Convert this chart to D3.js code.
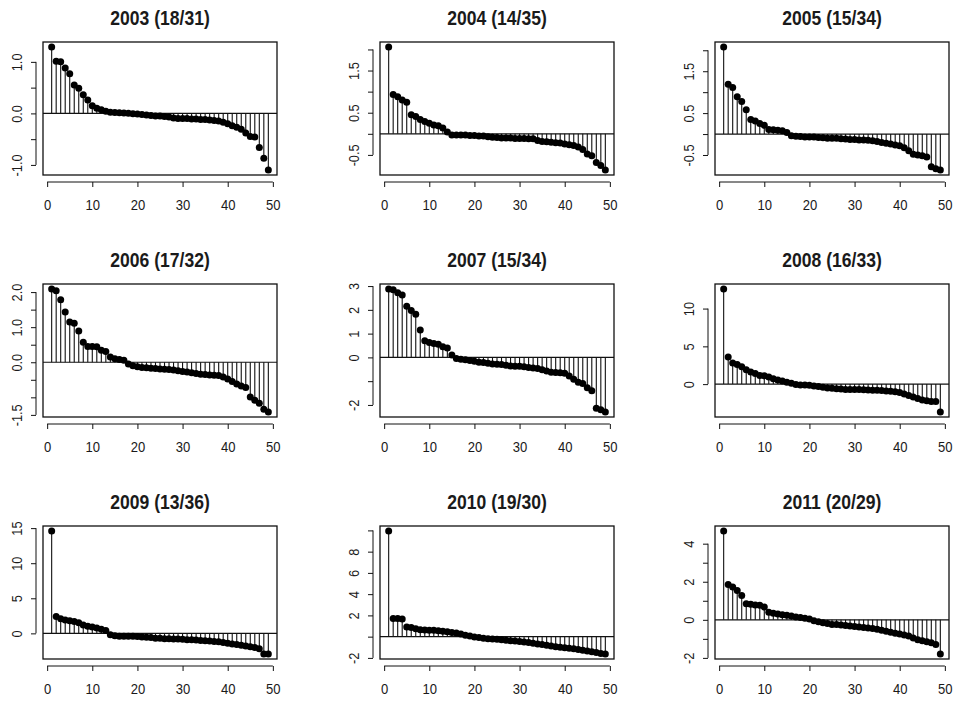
<!DOCTYPE html>
<html>
<head>
<meta charset="utf-8">
<script src="https://cdn.jsdelivr.net/npm/d3@7"></script>
<style>
  body { margin: 0; background: #fff; }
  text { font-family: "Liberation Sans", Arial, sans-serif; fill: #1a1a1a; }
</style>
</head>
<body>
<div id="chart"></div>
<script>
// panel titles
var years = ["2003", "2004", "2005", "2006", "2007", "2008", "2009", "2010", "2011"];
var posCounts = [18, 14, 15, 17, 15, 16, 13, 19, 20];
var negCounts = [31, 35, 34, 32, 34, 33, 36, 30, 29];

// sorted values, index 1..49
var v2003 = [1.29,1.01,1.00,0.88,0.77,0.55,0.49,0.36,0.26,0.15,0.10,0.07,0.04,0.02,0.015,0.012,0.01,0.005,
  -0.005,-0.01,-0.02,-0.03,-0.04,-0.05,-0.05,-0.06,-0.07,-0.09,-0.10,-0.10,-0.10,-0.11,-0.11,-0.12,-0.12,-0.13,
  -0.14,-0.15,-0.17,-0.20,-0.24,-0.27,-0.31,-0.38,-0.45,-0.46,-0.66,-0.87,-1.10];
var v2004 = [2.06,0.93,0.88,0.80,0.75,0.45,0.41,0.34,0.29,0.25,0.21,0.19,0.14,0.04,
  -0.03,-0.03,-0.03,-0.03,-0.04,-0.04,-0.05,-0.05,-0.07,-0.08,-0.09,-0.10,-0.10,-0.10,-0.11,-0.11,-0.11,-0.12,
  -0.12,-0.16,-0.18,-0.19,-0.20,-0.21,-0.22,-0.24,-0.26,-0.28,-0.31,-0.37,-0.48,-0.52,-0.68,-0.75,-0.86];
var v2005 = [2.08,1.19,1.11,0.89,0.78,0.58,0.35,0.31,0.25,0.21,0.11,0.10,0.09,0.08,0.04,
  -0.04,-0.05,-0.06,-0.07,-0.07,-0.07,-0.08,-0.09,-0.10,-0.10,-0.10,-0.11,-0.12,-0.13,-0.13,-0.14,-0.14,-0.15,
  -0.16,-0.18,-0.20,-0.22,-0.24,-0.26,-0.28,-0.33,-0.40,-0.48,-0.50,-0.52,-0.55,-0.78,-0.83,-0.86];
var v2006 = [2.09,2.04,1.78,1.43,1.15,1.11,0.89,0.57,0.45,0.45,0.44,0.34,0.31,0.15,0.10,0.08,0.06,
  -0.05,-0.10,-0.13,-0.15,-0.16,-0.17,-0.18,-0.19,-0.20,-0.21,-0.22,-0.24,-0.26,-0.28,-0.30,-0.32,-0.34,-0.35,
  -0.36,-0.37,-0.38,-0.42,-0.48,-0.55,-0.62,-0.68,-0.72,-0.99,-1.08,-1.17,-1.34,-1.42];
var v2007 = [2.88,2.85,2.72,2.62,2.15,1.97,1.82,1.15,0.70,0.63,0.58,0.55,0.45,0.40,0.10,
  -0.05,-0.08,-0.10,-0.13,-0.16,-0.20,-0.22,-0.25,-0.28,-0.29,-0.30,-0.33,-0.36,-0.37,-0.37,-0.39,-0.42,-0.45,
  -0.47,-0.52,-0.57,-0.62,-0.64,-0.65,-0.67,-0.78,-0.92,-1.05,-1.10,-1.28,-1.40,-2.14,-2.20,-2.30];
var v2008 = [12.6,3.6,2.8,2.6,2.3,1.9,1.6,1.4,1.15,1.1,0.95,0.7,0.55,0.4,0.25,0.1,
  -0.05,-0.1,-0.1,-0.15,-0.25,-0.3,-0.4,-0.5,-0.55,-0.6,-0.65,-0.7,-0.7,-0.7,-0.72,-0.75,-0.78,-0.8,-0.82,
  -0.85,-0.9,-0.95,-1.0,-1.1,-1.3,-1.5,-1.7,-1.9,-2.1,-2.2,-2.3,-2.3,-3.7];
var v2009 = [14.6,2.4,2.1,1.9,1.8,1.7,1.5,1.2,1.0,0.9,0.75,0.6,0.4,
  -0.2,-0.35,-0.4,-0.4,-0.4,-0.4,-0.45,-0.5,-0.55,-0.6,-0.7,-0.7,-0.75,-0.75,-0.8,-0.8,-0.85,-0.9,-0.9,-0.95,
  -1.0,-1.05,-1.1,-1.15,-1.2,-1.3,-1.4,-1.5,-1.6,-1.7,-1.8,-1.9,-2.0,-2.2,-2.95,-2.95];
var v2010 = [9.95,1.7,1.7,1.65,0.9,0.85,0.75,0.65,0.62,0.6,0.6,0.55,0.5,0.45,0.4,0.35,0.25,0.12,0.05,
  -0.03,-0.08,-0.15,-0.2,-0.22,-0.25,-0.3,-0.35,-0.38,-0.42,-0.45,-0.5,-0.55,-0.62,-0.7,-0.75,-0.8,-0.88,
  -0.95,-1.0,-1.05,-1.1,-1.15,-1.2,-1.28,-1.35,-1.42,-1.5,-1.58,-1.64];
var v2011 = [4.67,1.86,1.72,1.54,1.28,0.84,0.82,0.78,0.76,0.67,0.40,0.35,0.30,0.27,0.24,0.20,0.15,0.12,0.08,0.04,
  -0.05,-0.10,-0.15,-0.20,-0.24,-0.25,-0.27,-0.30,-0.32,-0.35,-0.38,-0.40,-0.43,-0.46,-0.50,-0.55,-0.60,-0.65,
  -0.70,-0.75,-0.80,-0.85,-0.95,-1.05,-1.10,-1.15,-1.20,-1.30,-1.80];
var allValues = [v2003, v2004, v2005, v2006, v2007, v2008, v2009, v2010, v2011];

// axis ticks
var xTicks = [0, 10, 20, 30, 40, 50];
var yTicks = [
  [-1, -0.5, 0, 0.5, 1],
  [-0.5, 0, 0.5, 1, 1.5, 2],
  [-0.5, 0, 0.5, 1, 1.5, 2],
  [-1.5, -1, -0.5, 0, 0.5, 1, 1.5, 2],
  [-2, -1, 0, 1, 2, 3],
  [0, 5, 10],
  [0, 5, 10, 15],
  [-2, 0, 2, 4, 6, 8, 10],
  [-2, -1, 0, 1, 2, 3, 4]
];
var yLabels = [
  ["-1.0", "", "0.0", "", "1.0"],
  ["-0.5", "", "0.5", "", "1.5", ""],
  ["-0.5", "", "0.5", "", "1.5", ""],
  ["-1.5", "", "", "0.0", "", "1.0", "", "2.0"],
  ["-2", "", "0", "1", "2", "3"],
  ["0", "5", "10"],
  ["0", "5", "10", "15"],
  ["-2", "", "2", "4", "6", "8", ""],
  ["-2", "", "0", "", "2", "", "4"]
];

var W = 958, H = 702;
var colLeft = [43, 380, 715];
var rowTop = [42, 284, 526];
var bw = 234, bh = 133;
var axisGap = 7;

var svg = d3.select("#chart").append("svg")
    .attr("width", W)
    .attr("height", H);

svg.append("rect").attr("width", W).attr("height", H).attr("fill", "#fff");

allValues.forEach(function (vals, p) {
    var left = colLeft[p % 3];
    var top = rowTop[Math.floor(p / 3)];
    var data = vals.map(function (v, i) { return { idx: i + 1, val: v }; });

    // R style 4% padding
    var n = data.length;
    var xScale = d3.scaleLinear()
        .domain([1 - 0.04 * (n - 1), n + 0.04 * (n - 1)])
        .range([left, left + bw]);
    var lo = d3.min(vals), hi = d3.max(vals), r = hi - lo;
    var yScale = d3.scaleLinear()
        .domain([lo - 0.04 * r, hi + 0.04 * r])
        .range([top + bh, top]);

    var g = svg.append("g");

    // stems
    g.selectAll(".stem")
        .data(data)
        .enter()
        .append("line")
        .attr("class", "stem")
        .attr("x1", function (d) { return xScale(d.idx); })
        .attr("x2", function (d) { return xScale(d.idx); })
        .attr("y1", yScale(0))
        .attr("y2", function (d) { return yScale(d.val); })
        .attr("stroke", "#111")
        .attr("stroke-width", 1.1);

    // zero line
    g.append("line")
        .attr("x1", left).attr("x2", left + bw)
        .attr("y1", yScale(0)).attr("y2", yScale(0))
        .attr("stroke", "#111").attr("stroke-width", 1.2);

    g.selectAll(".pt")
        .data(data)
        .enter()
        .append("circle")
        .attr("class", "pt")
        .attr("cx", function (d) { return xScale(d.idx); })
        .attr("cy", function (d) { return yScale(d.val); })
        .attr("r", 3.5)
        .attr("fill", "#000");

    g.append("rect")
        .attr("x", left).attr("y", top)
        .attr("width", bw).attr("height", bh)
        .attr("fill", "none")
        .attr("stroke", "#111")
        .attr("stroke-width", 1.3);

    // x axis
    var xAxis = d3.axisBottom(xScale)
        .tickValues(xTicks)
        .tickSize(5)
        .tickSizeOuter(0)
        .tickFormat(d3.format("d"));
    var xg = g.append("g")
        .attr("transform", "translate(0," + (top + bh + axisGap) + ")")
        .call(xAxis);
    xg.select(".domain").remove();
    xg.append("line")
        .attr("x1", xScale(xTicks[0])).attr("x2", xScale(xTicks[xTicks.length - 1]))
        .attr("stroke", "#111");
    xg.selectAll(".tick line").attr("stroke", "#111");
    xg.selectAll(".tick text")
        .attr("y", 0).attr("dy", null)
        .attr("transform", "translate(0,27.5) scale(0.87,1)")
        .style("font-size", "15px")
        .style("fill", "#1a1a1a");

    // y axis
    var labs = yLabels[p];
    var ticks = yTicks[p];
    var yAxis = d3.axisLeft(yScale)
        .tickValues(ticks)
        .tickSize(5)
        .tickSizeOuter(0)
        .tickFormat(function (d, i) { return labs[i]; });
    var yg = g.append("g")
        .attr("transform", "translate(" + (left - axisGap) + ",0)")
        .call(yAxis);
    yg.select(".domain").remove();
    yg.append("line")
        .attr("y1", yScale(ticks[0])).attr("y2", yScale(ticks[ticks.length - 1]))
        .attr("stroke", "#111");
    yg.selectAll(".tick line").attr("stroke", "#111");
    yg.selectAll(".tick text")
        .attr("x", 0).attr("y", 0).attr("dy", null)
        .attr("text-anchor", "middle")
        .attr("transform", "translate(-14.5,0) rotate(-90) scale(0.85,1)")
        .style("font-size", "15px")
        .style("fill", "#1a1a1a");

    // title
    g.append("text")
        .attr("transform", "translate(" + (left + bw / 2) + "," + (top - 17.5) + ") scale(0.9,1)")
        .attr("text-anchor", "middle")
        .style("font-size", "19.5px")
        .style("font-weight", "bold")
        .text(years[p] + " (" + posCounts[p] + "/" + negCounts[p] + ")");
});
</script>
</body>
</html>
